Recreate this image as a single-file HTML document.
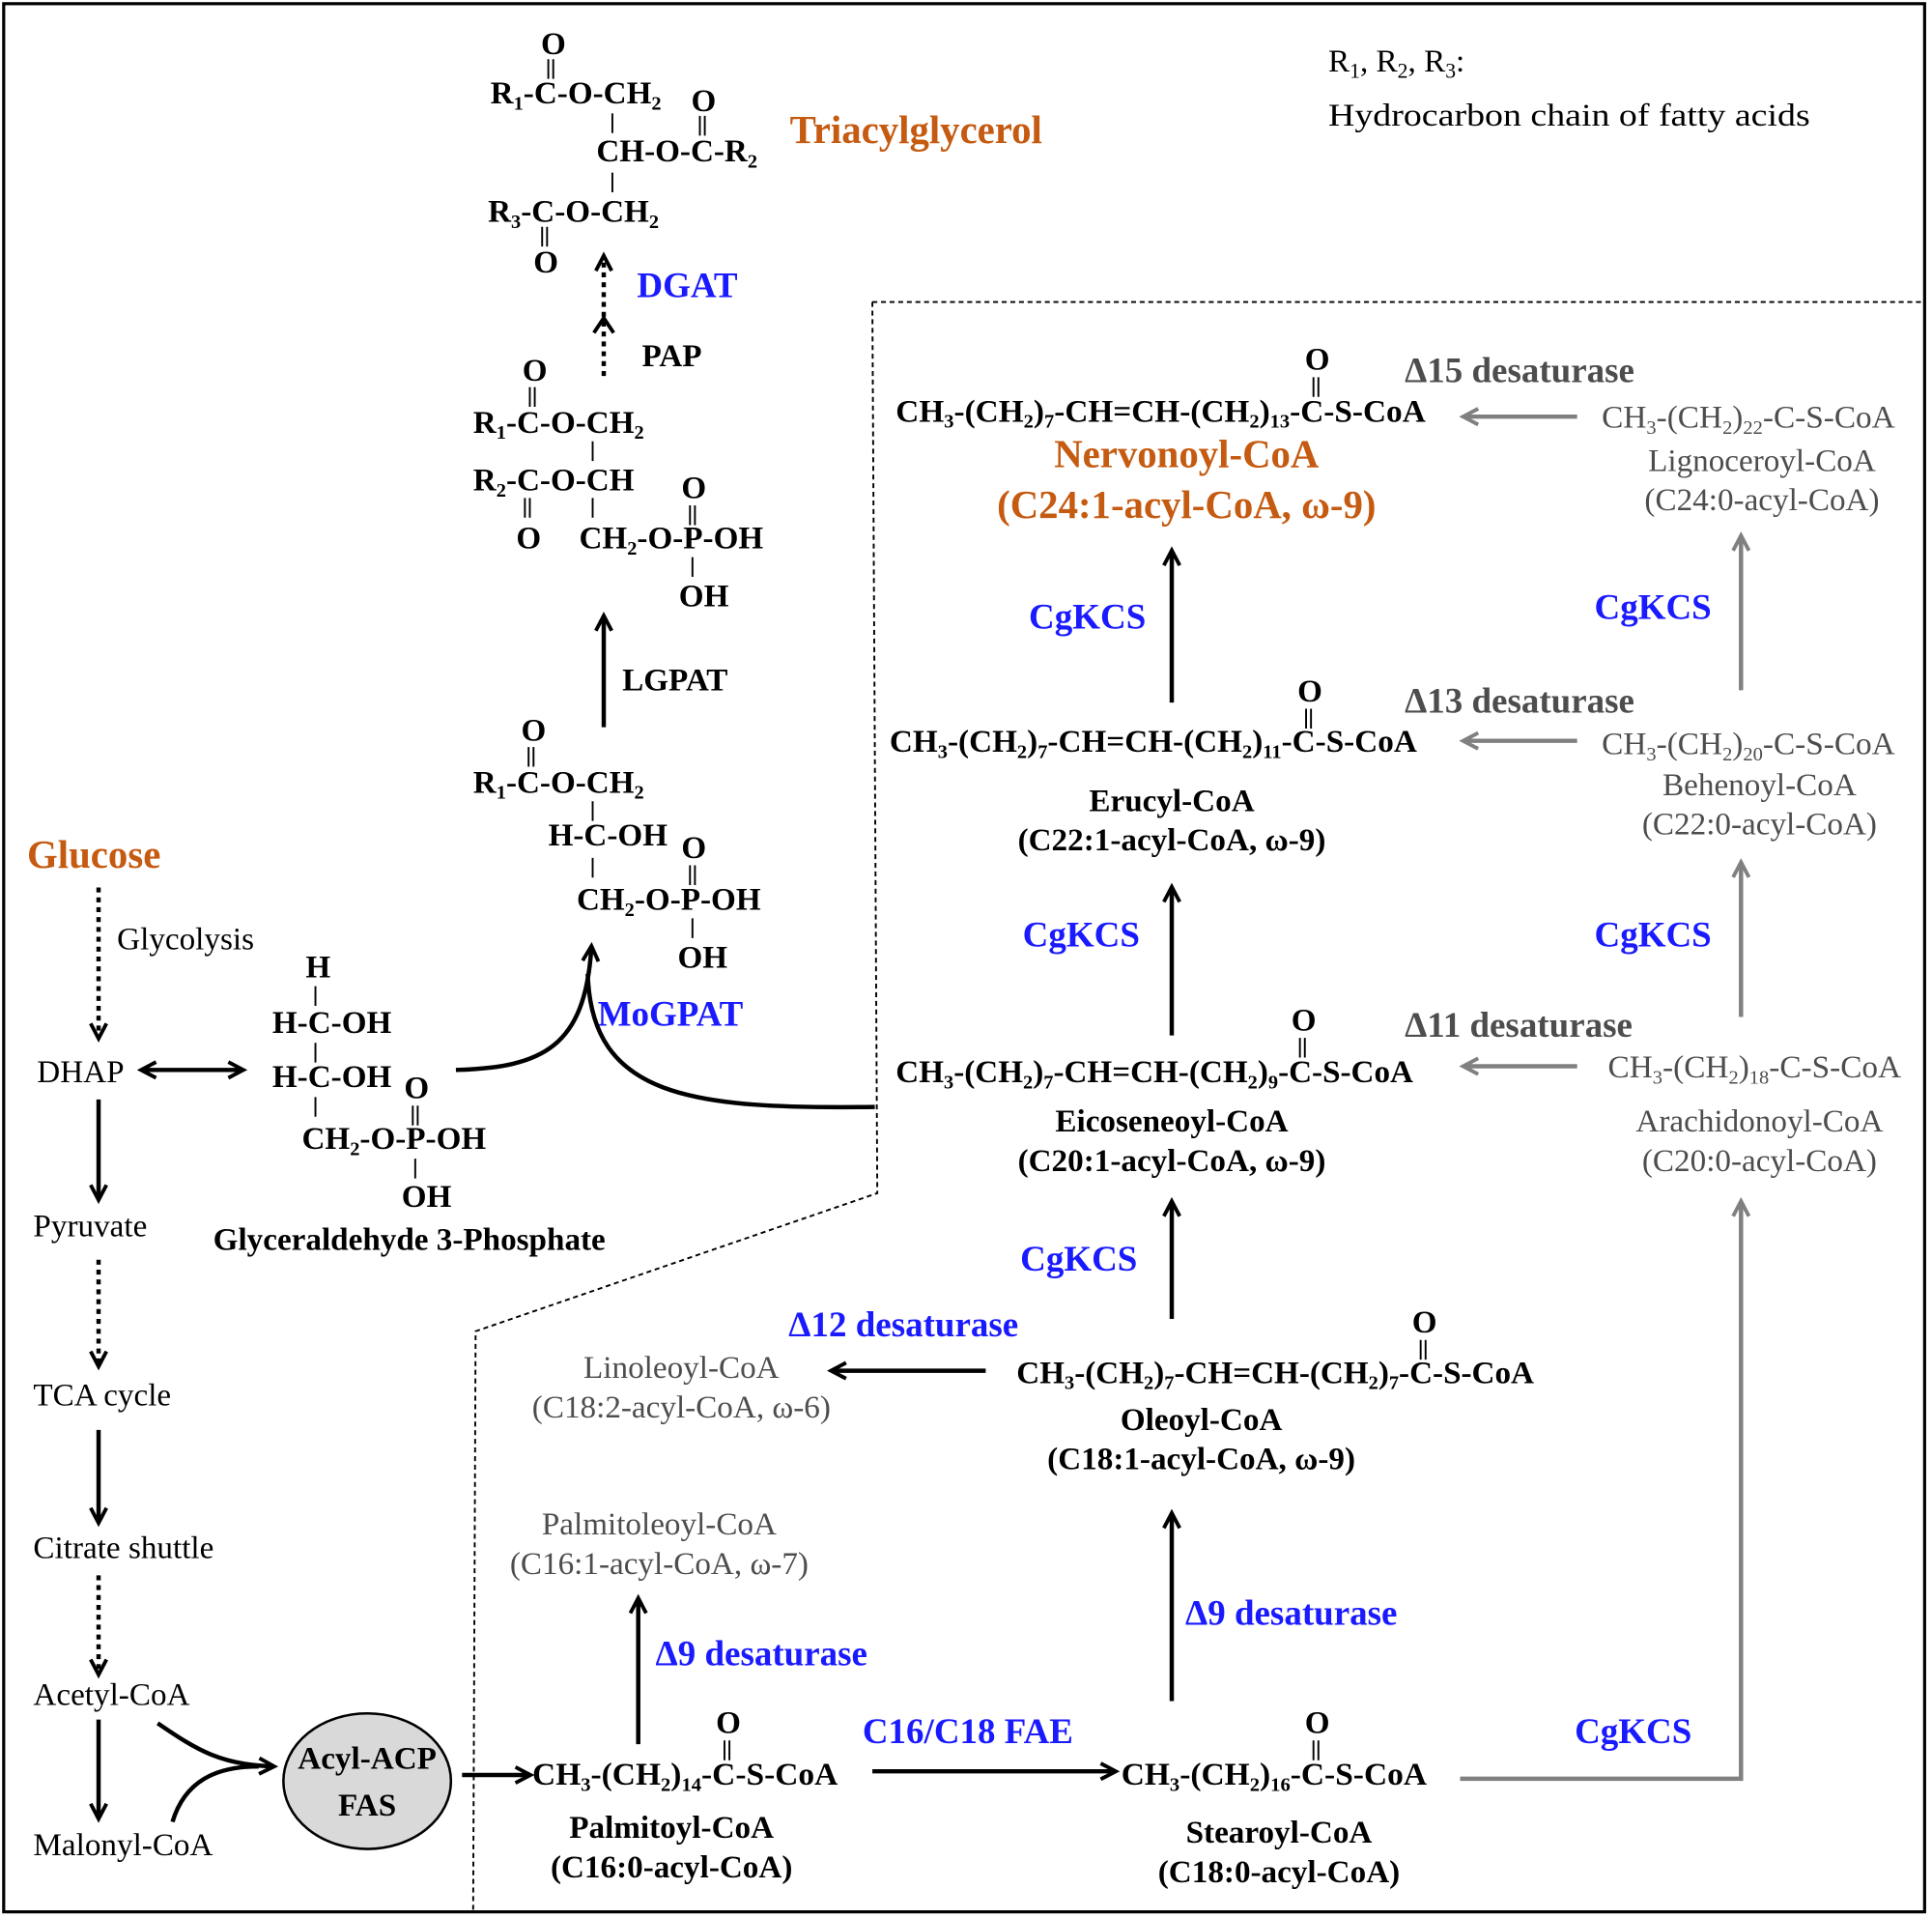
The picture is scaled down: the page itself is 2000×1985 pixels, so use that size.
<!DOCTYPE html>
<html><head><meta charset="utf-8"><style>
html,body{margin:0;padding:0;background:#fff}
svg{display:block}
text{font-family:"Liberation Serif",serif}
.b{font-weight:bold;font-size:26px}
.r{font-size:26px}
.bl{fill:#1a1aff;font-weight:bold;font-size:29px}
.or{fill:#c55a11;font-weight:bold;font-size:32px}
.gy{fill:#4d4d4d}
</style></head><body>
<svg width="2000" height="1985" viewBox="0 0 1568 1556" preserveAspectRatio="none" xmlns="http://www.w3.org/2000/svg">
<defs>
<marker id="a" viewBox="0 0 12 12" refX="10" refY="6" markerWidth="14" markerHeight="16" orient="auto-start-reverse" markerUnits="userSpaceOnUse" style="overflow:visible">
<path d="M0,0.5 L10.5,6 L0,11.5" fill="none" stroke="#000" stroke-width="2.6"/></marker>
<marker id="g" viewBox="0 0 12 12" refX="10" refY="6" markerWidth="14" markerHeight="16" orient="auto-start-reverse" markerUnits="userSpaceOnUse" style="overflow:visible">
<path d="M0,0.5 L10.5,6 L0,11.5" fill="none" stroke="#808080" stroke-width="2.6"/></marker>
</defs>
<style>
.k{stroke:#000;stroke-width:3.5;fill:none}
.gk{stroke:#808080;stroke-width:3.5;fill:none}
.d{stroke:#000;stroke-width:3.5;fill:none;stroke-dasharray:4 4}
.t{stroke:#000;stroke-width:1.5}
</style>
<rect x="3" y="3" width="1559" height="1548" fill="none" stroke="#000" stroke-width="2.5"/>
<path d="M708,245 H1563 M708,245 L712,968 L386,1080 L384,1552" fill="none" stroke="#000" stroke-width="1.5" stroke-dasharray="4 3"/>

<!-- TAG -->
<g class="b">
<text x="439" y="44">O</text>
<text x="398" y="84">R<tspan font-size="16" dy="5">1</tspan><tspan dy="-5">-C-O-CH</tspan><tspan font-size="16" dy="5">2</tspan></text>
<text x="561" y="90">O</text>
<text x="484" y="131">CH-O-C-R<tspan font-size="16" dy="5">2</tspan></text>
<text x="396" y="180">R<tspan font-size="16" dy="5">3</tspan><tspan dy="-5">-C-O-CH</tspan><tspan font-size="16" dy="5">2</tspan></text>
<text x="433" y="221">O</text>
</g>
<path class="t" d="M445,48V64 M449,48V64 M568,94V110 M572,94V110 M497,92V108 M497,140V156 M440,184V200 M444,184V200"/>
<text x="641" y="116" class="or">Triacylglycerol</text>
<path class="d" d="M490,305V208" marker-end="url(#a)"/>
<path d="M482,270 L490,258 L498,270" fill="none" stroke="#000" stroke-width="3"/>
<text x="517" y="241" class="bl">DGAT</text>
<text x="521" y="297" class="b" font-size="28">PAP</text>

<!-- PA -->
<g class="b">
<text x="424" y="309">O</text>
<text x="384" y="351">R<tspan font-size="16" dy="5">1</tspan><tspan dy="-5">-C-O-CH</tspan><tspan font-size="16" dy="5">2</tspan></text>
<text x="384" y="398">R<tspan font-size="16" dy="5">2</tspan><tspan dy="-5">-C-O-CH</tspan></text>
<text x="419" y="445">O</text>
<text x="553" y="404">O</text>
<text x="470" y="445">CH<tspan font-size="16" dy="5">2</tspan><tspan dy="-5">-O-P-OH</tspan></text>
<text x="551" y="492">OH</text>
</g>
<path class="t" d="M430,314V330 M434,314V330 M481,358V374 M481,404V420 M426,404V420 M430,404V420 M560,410V426 M564,410V426 M562,452V468"/>
<path class="k" d="M490,590V500" marker-end="url(#a)"/>
<text x="505" y="560" class="b" font-size="28">LGPAT</text>

<!-- LPA -->
<g class="b">
<text x="423" y="601">O</text>
<text x="384" y="643">R<tspan font-size="16" dy="5">1</tspan><tspan dy="-5">-C-O-CH</tspan><tspan font-size="16" dy="5">2</tspan></text>
<text x="445" y="686">H-C-OH</text>
<text x="553" y="696">O</text>
<text x="468" y="738">CH<tspan font-size="16" dy="5">2</tspan><tspan dy="-5">-O-P-OH</tspan></text>
<text x="550" y="785">OH</text>
</g>
<path class="t" d="M429,606V622 M433,606V622 M481,650V666 M481,696V712 M560,702V718 M564,702V718 M562,745V761"/>
<text x="485" y="832" class="bl">MoGPAT</text>
<path class="k" d="M370,868 C440,866 475,850 480,768" marker-end="url(#a)"/>
<path class="k" d="M710,898 C560,900 480,890 477,790"/>

<!-- Left column -->
<text x="22" y="704" class="or">Glucose</text>
<path class="d" d="M80,720V842" marker-end="url(#a)"/>
<text x="95" y="770" class="r">Glycolysis</text>
<text x="30" y="878" class="r">DHAP</text>
<path class="k" d="M115,868H197" marker-start="url(#a)" marker-end="url(#a)"/>
<g class="b">
<text x="248" y="793">H</text>
<text x="221" y="838">H-C-OH</text>
<text x="221" y="882">H-C-OH</text>
<text x="328" y="891">O</text>
<text x="245" y="932">CH<tspan font-size="16" dy="5">2</tspan><tspan dy="-5">-O-P-OH</tspan></text>
<text x="326" y="979">OH</text>
<text x="173" y="1014">Glyceraldehyde 3-Phosphate</text>
</g>
<path class="t" d="M256,800V816 M256,846V862 M256,890V906 M335,897V913 M339,897V913 M337,940V956"/>
<path class="k" d="M80,892V973" marker-end="url(#a)"/>
<text x="27" y="1003" class="r">Pyruvate</text>
<path class="d" d="M80,1022V1108" marker-end="url(#a)"/>
<text x="27" y="1140" class="r">TCA cycle</text>
<path class="k" d="M80,1160V1235" marker-end="url(#a)"/>
<text x="27" y="1264" class="r">Citrate shuttle</text>
<path class="d" d="M80,1278V1358" marker-end="url(#a)"/>
<text x="27" y="1383" class="r">Acetyl-CoA</text>
<path class="k" d="M80,1395V1475" marker-end="url(#a)"/>
<text x="27" y="1505" class="r">Malonyl-CoA</text>
<ellipse cx="298" cy="1445" rx="68" ry="55" fill="#d9d9d9" stroke="#000" stroke-width="2"/>
<text x="298" y="1435" class="b" text-anchor="middle">Acyl-ACP</text>
<text x="298" y="1473" class="b" text-anchor="middle">FAS</text>
<path class="k" d="M128,1398 C160,1420 180,1432 222,1433" marker-end="url(#a)"/>
<path class="k" d="M140,1478 C150,1445 175,1433 210,1433"/>
<path class="k" d="M375,1440H430" marker-end="url(#a)"/>

<!-- Palmitoyl -->
<g class="b">
<text x="581" y="1406">O</text>
<text x="432" y="1448" textLength="248" lengthAdjust="spacingAndGlyphs">CH<tspan font-size="16" dy="5">3</tspan><tspan dy="-5">-(CH</tspan><tspan font-size="16" dy="5">2</tspan><tspan dy="-5">)</tspan><tspan font-size="16" dy="5">14</tspan><tspan dy="-5">-C-S-CoA</tspan></text>
<text x="545" y="1491" text-anchor="middle">Palmitoyl-CoA</text>
<text x="545" y="1523" text-anchor="middle">(C16:0-acyl-CoA)</text>
</g>
<path class="t" d="M588,1412V1428 M592,1412V1428"/>
<path class="k" d="M518,1415V1297" marker-end="url(#a)"/>
<text x="532" y="1351" class="bl">Δ9 desaturase</text>
<text x="535" y="1245" class="r gy" text-anchor="middle">Palmitoleoyl-CoA</text>
<text x="535" y="1277" class="r gy" text-anchor="middle">(C16:1-acyl-CoA, ω-7)</text>
<path class="k" d="M708,1437H905" marker-end="url(#a)"/>
<text x="700" y="1414" class="bl">C16/C18 FAE</text>

<!-- Stearoyl -->
<g class="b">
<text x="1059" y="1406">O</text>
<text x="910" y="1448" textLength="248" lengthAdjust="spacingAndGlyphs">CH<tspan font-size="16" dy="5">3</tspan><tspan dy="-5">-(CH</tspan><tspan font-size="16" dy="5">2</tspan><tspan dy="-5">)</tspan><tspan font-size="16" dy="5">16</tspan><tspan dy="-5">-C-S-CoA</tspan></text>
<text x="1038" y="1495" text-anchor="middle">Stearoyl-CoA</text>
<text x="1038" y="1527" text-anchor="middle">(C18:0-acyl-CoA)</text>
</g>
<path class="t" d="M1066,1412V1428 M1070,1412V1428"/>
<path class="gk" d="M1185,1443H1413V975" marker-end="url(#g)"/>
<text x="1278" y="1414" class="bl">CgKCS</text>
<path class="k" d="M951,1380V1228" marker-end="url(#a)"/>
<text x="962" y="1318" class="bl">Δ9 desaturase</text>

<!-- Oleoyl -->
<g class="b">
<text x="1146" y="1081">O</text>
<text x="825" y="1122" textLength="420" lengthAdjust="spacingAndGlyphs">CH<tspan font-size="16" dy="5">3</tspan><tspan dy="-5">-(CH</tspan><tspan font-size="16" dy="5">2</tspan><tspan dy="-5">)</tspan><tspan font-size="16" dy="5">7</tspan><tspan dy="-5">-CH=CH-(CH</tspan><tspan font-size="16" dy="5">2</tspan><tspan dy="-5">)</tspan><tspan font-size="16" dy="5">7</tspan><tspan dy="-5">-C-S-CoA</tspan></text>
<text x="975" y="1160" text-anchor="middle">Oleoyl-CoA</text>
<text x="975" y="1192" text-anchor="middle">(C18:1-acyl-CoA, ω-9)</text>
</g>
<path class="t" d="M1153,1087V1103 M1157,1087V1103"/>
<path class="k" d="M800,1112H675" marker-end="url(#a)"/>
<text x="640" y="1084" class="bl">Δ12 desaturase</text>
<text x="553" y="1118" class="r gy" text-anchor="middle">Linoleoyl-CoA</text>
<text x="553" y="1150" class="r gy" text-anchor="middle">(C18:2-acyl-CoA, ω-6)</text>
<path class="k" d="M951,1070V975" marker-end="url(#a)"/>
<text x="828" y="1031" class="bl">CgKCS</text>

<!-- Eicoseneoyl -->
<g class="b">
<text x="1048" y="836">O</text>
<text x="727" y="878" textLength="420" lengthAdjust="spacingAndGlyphs">CH<tspan font-size="16" dy="5">3</tspan><tspan dy="-5">-(CH</tspan><tspan font-size="16" dy="5">2</tspan><tspan dy="-5">)</tspan><tspan font-size="16" dy="5">7</tspan><tspan dy="-5">-CH=CH-(CH</tspan><tspan font-size="16" dy="5">2</tspan><tspan dy="-5">)</tspan><tspan font-size="16" dy="5">9</tspan><tspan dy="-5">-C-S-CoA</tspan></text>
<text x="951" y="918" text-anchor="middle">Eicoseneoyl-CoA</text>
<text x="951" y="950" text-anchor="middle">(C20:1-acyl-CoA, ω-9)</text>
</g>
<path class="t" d="M1055,842V858 M1059,842V858"/>
<path class="gk" d="M1280,865H1188" marker-end="url(#g)"/>
<text x="1140" y="841" class="bl gy">Δ11 desaturase</text>
<text x="1305" y="874" class="r gy" textLength="238" lengthAdjust="spacingAndGlyphs">CH<tspan font-size="16" dy="5">3</tspan><tspan dy="-5">-(CH</tspan><tspan font-size="16" dy="5">2</tspan><tspan dy="-5">)</tspan><tspan font-size="16" dy="5">18</tspan><tspan dy="-5">-C-S-CoA</tspan></text>
<text x="1428" y="918" class="r gy" text-anchor="middle">Arachidonoyl-CoA</text>
<text x="1428" y="950" class="r gy" text-anchor="middle">(C20:0-acyl-CoA)</text>
<path class="k" d="M951,840V720" marker-end="url(#a)"/>
<text x="830" y="768" class="bl">CgKCS</text>
<path class="gk" d="M1413,825V700" marker-end="url(#g)"/>
<text x="1294" y="768" class="bl">CgKCS</text>

<!-- Erucyl -->
<g class="b">
<text x="1053" y="569">O</text>
<text x="722" y="610" textLength="428" lengthAdjust="spacingAndGlyphs">CH<tspan font-size="16" dy="5">3</tspan><tspan dy="-5">-(CH</tspan><tspan font-size="16" dy="5">2</tspan><tspan dy="-5">)</tspan><tspan font-size="16" dy="5">7</tspan><tspan dy="-5">-CH=CH-(CH</tspan><tspan font-size="16" dy="5">2</tspan><tspan dy="-5">)</tspan><tspan font-size="16" dy="5">11</tspan><tspan dy="-5">-C-S-CoA</tspan></text>
<text x="951" y="658" text-anchor="middle">Erucyl-CoA</text>
<text x="951" y="690" text-anchor="middle">(C22:1-acyl-CoA, ω-9)</text>
</g>
<path class="t" d="M1060,575V591 M1064,575V591"/>
<path class="gk" d="M1280,601H1188" marker-end="url(#g)"/>
<text x="1140" y="578" class="bl gy">Δ13 desaturase</text>
<text x="1300" y="612" class="r gy" textLength="238" lengthAdjust="spacingAndGlyphs">CH<tspan font-size="16" dy="5">3</tspan><tspan dy="-5">-(CH</tspan><tspan font-size="16" dy="5">2</tspan><tspan dy="-5">)</tspan><tspan font-size="16" dy="5">20</tspan><tspan dy="-5">-C-S-CoA</tspan></text>
<text x="1428" y="645" class="r gy" text-anchor="middle">Behenoyl-CoA</text>
<text x="1428" y="677" class="r gy" text-anchor="middle">(C22:0-acyl-CoA)</text>
<path class="k" d="M951,570V447" marker-end="url(#a)"/>
<text x="835" y="510" class="bl">CgKCS</text>
<path class="gk" d="M1413,560V435" marker-end="url(#g)"/>
<text x="1294" y="502" class="bl">CgKCS</text>

<!-- Nervonoyl -->
<g class="b">
<text x="1059" y="300">O</text>
<text x="727" y="342" textLength="430" lengthAdjust="spacingAndGlyphs">CH<tspan font-size="16" dy="5">3</tspan><tspan dy="-5">-(CH</tspan><tspan font-size="16" dy="5">2</tspan><tspan dy="-5">)</tspan><tspan font-size="16" dy="5">7</tspan><tspan dy="-5">-CH=CH-(CH</tspan><tspan font-size="16" dy="5">2</tspan><tspan dy="-5">)</tspan><tspan font-size="16" dy="5">13</tspan><tspan dy="-5">-C-S-CoA</tspan></text>
</g>
<path class="t" d="M1066,306V322 M1070,306V322"/>
<text x="963" y="379" class="or" text-anchor="middle">Nervonoyl-CoA</text>
<text x="963" y="420" class="or" text-anchor="middle">(C24:1-acyl-CoA, ω-9)</text>
<path class="gk" d="M1280,338H1188" marker-end="url(#g)"/>
<text x="1140" y="310" class="bl gy">Δ15 desaturase</text>
<text x="1300" y="347" class="r gy" textLength="238" lengthAdjust="spacingAndGlyphs">CH<tspan font-size="16" dy="5">3</tspan><tspan dy="-5">-(CH</tspan><tspan font-size="16" dy="5">2</tspan><tspan dy="-5">)</tspan><tspan font-size="16" dy="5">22</tspan><tspan dy="-5">-C-S-CoA</tspan></text>
<text x="1430" y="382" class="r gy" text-anchor="middle">Lignoceroyl-CoA</text>
<text x="1430" y="414" class="r gy" text-anchor="middle">(C24:0-acyl-CoA)</text>

<text x="1078" y="58" class="r" font-size="28">R<tspan font-size="17" dy="5">1</tspan><tspan dy="-5">, R</tspan><tspan font-size="17" dy="5">2</tspan><tspan dy="-5">, R</tspan><tspan font-size="17" dy="5">3</tspan><tspan dy="-5">:</tspan></text>
<text x="1078" y="102" class="r" font-size="28" textLength="391" lengthAdjust="spacingAndGlyphs">Hydrocarbon chain of fatty acids</text>
</svg>
</body></html>
